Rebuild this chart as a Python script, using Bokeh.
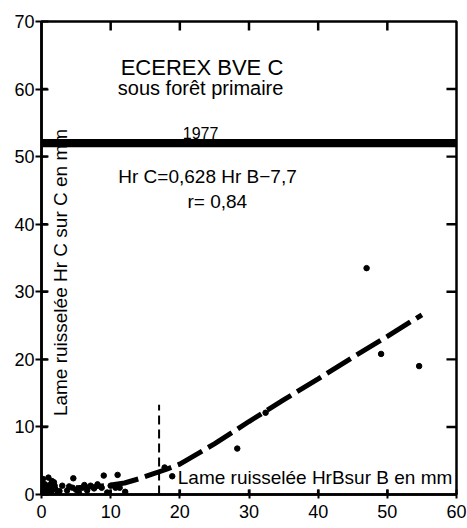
from bokeh.plotting import figure
from bokeh.models import Range1d, LinearAxis, Label, BoxAnnotation
from bokeh.embed import file_html
from bokeh.resources import INLINE
from math import pi

# observed points (Hr B, Hr C) in mm
hrb = [47.0, 49.1, 54.6, 28.3, 32.4, 17.8, 18.9,
       1.0, 4.6, 9.0, 11.0, 11.3, 11.2, 12.1, 8.1, 7.1, 5.9, 3.7, 3.0, 2.3,
       1.6, 0.3, 0.3, 0.1, 1.0, 5.4, 6.6, 10.0, 9.5, 8.7, 10.7, 4.5, 0.8, 1.8,
       0.5, 1.2, 0.6, 1.4, 2.0, 0.2, 1.5, 2.6, 4.0, 5.0, 6.2, 7.6, 0.9, 1.9]
hrc = [33.5, 20.8, 19.0, 6.8, 12.1, 4.0, 2.7,
       2.5, 2.4, 2.8, 2.9, 1.0, -0.4, 0.4, 1.5, 1.3, 1.0, 0.6, 1.3, 0.1,
       1.0, 1.0, 0.1, 1.8, 0.2, 0.3, 0.6, 1.3, 0.3, 1.0, 1.0, 1.0, 0.7, 1.8,
       1.5, 1.4, 0.5, 0.4, 0.8, 2.3, 2.0, 0.5, 1.2, 0.7, 1.4, 0.9, 1.2, 1.3]

# fitted curve
curve_x = [5, 8, 10, 12, 14, 16, 18, 20, 25, 30, 35, 40, 45, 50, 55]
curve_y = [1.0, 1.2, 1.4, 1.7, 2.3, 3.0, 3.7, 4.5, 7.5, 10.8, 14.0, 17.1, 20.3, 23.4, 26.6]

# vertical threshold marker
threshold_x = [17, 17]
threshold_y = [0, 13.3]

x_ticks = [0, 10, 20, 30, 40, 50, 60]
y_ticks = [0, 10, 20, 30, 40, 50, 60, 70]

FONT = "Liberation Sans"
X0, X1, Y0, Y1 = 0, 60, 0, 70

p = figure(width=467, height=528, output_backend="svg", toolbar_location=None,
           x_range=Range1d(X0, X1), y_range=Range1d(Y0, Y1),
           x_axis_location=None, y_axis_location=None,
           min_border_left=41, min_border_right=11, min_border_top=21, min_border_bottom=34)
p.outline_line_color = "black"
p.outline_line_width = 2.5
p.xgrid.visible = False
p.ygrid.visible = False
p.background_fill_color = "white"
p.border_fill_color = "white"

def style(ax):
    ax.axis_line_color = "black"
    ax.axis_line_width = 2.5
    ax.major_tick_line_color = "black"
    ax.major_tick_line_width = 2
    ax.minor_tick_line_color = None
    ax.major_label_text_font = FONT
    ax.major_label_text_color = "black"
    ax.major_label_text_font_size = "18px"

bottom = LinearAxis(ticker=x_ticks)
style(bottom)
bottom.major_tick_out = 4
bottom.major_tick_in = 5
bottom.major_label_standoff = 6
p.add_layout(bottom, "below")

left = LinearAxis(ticker=y_ticks)
style(left)
left.major_tick_out = 6
left.major_tick_in = 7
left.major_label_standoff = 1
p.add_layout(left, "left")

# inward ticks on all four frame edges, drawn as thin box annotations
TX = 0.18   # half tick thickness in x units (about 1.25 px)
TY = 0.18   # half tick thickness in y units
top_t = x_ticks[1:-1]
right_t = y_ticks[1:-1]
for t in top_t:
    p.add_layout(BoxAnnotation(left=t - TX, right=t + TX, top=Y1, bottom=Y1 - 1.35,
                               fill_color="black", fill_alpha=1.0, line_color=None))
    p.add_layout(BoxAnnotation(left=t - TX, right=t + TX, top=Y0 + 0.75, bottom=Y0,
                               fill_color="black", fill_alpha=1.0, line_color=None))
for t in right_t:
    p.add_layout(BoxAnnotation(left=X1 - 1.45, right=X1, top=t + TY, bottom=t - TY,
                               fill_color="black", fill_alpha=1.0, line_color=None))
    p.add_layout(BoxAnnotation(left=X0, right=X0 + 0.9, top=t + TY, bottom=t - TY,
                               fill_color="black", fill_alpha=1.0, line_color=None))

p.line(curve_x, curve_y, line_color="black", line_width=5, line_dash="28 7")
p.line(threshold_x, threshold_y, line_color="black", line_width=2, line_dash="9 5")
p.scatter(hrb, hrc, size=5.5, color="black")

def lab(x, y, text, size, **kw):
    l = Label(x=x, y=y, text=text, text_font=FONT, text_font_size=size,
              text_color="black", **kw)
    p.add_layout(l)

lab(23.2, 63.2, "ECEREX BVE C", "22px", text_align="center", text_baseline="middle")
lab(23.0, 60.2, "sous forêt primaire", "20px", text_align="center", text_baseline="middle")
lab(23.0, 53.5, "1977", "16px", text_align="center", text_baseline="middle")
lab(11.1, 47.0, "Hr C=0,628 Hr B−7,7", "19px", text_align="left", text_baseline="middle")
lab(21.1, 43.4, "r= 0,84", "19px", text_align="left", text_baseline="middle")
lab(2.8, 11.6, "Lame ruisselée Hr C sur C en mm", "19px", angle=pi / 2,
    text_align="left", text_baseline="middle")
lab(19.7, 1.0, "Lame ruisselée HrBsur B en mm", "19px", text_align="left",
    text_baseline="bottom")

bar = BoxAnnotation(left=-7, right=63, bottom=51.4, top=52.6,
                    fill_color="black", fill_alpha=1.0, line_color=None)
p.add_layout(bar)

open("out.html", "w").write(file_html(p, INLINE))
